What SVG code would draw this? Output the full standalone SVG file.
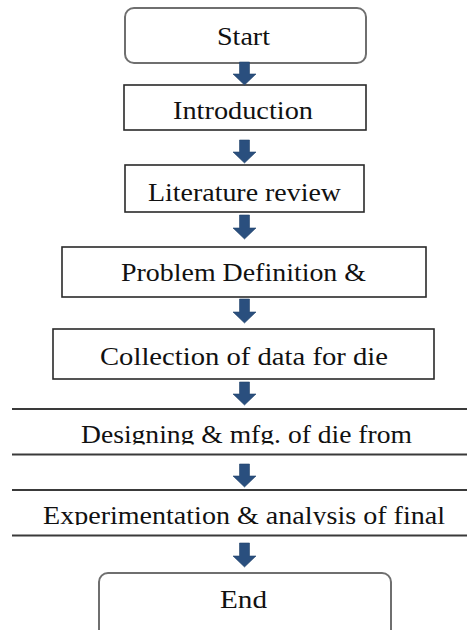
<svg xmlns="http://www.w3.org/2000/svg" width="467" height="630" viewBox="0 0 467 630">
<style>
.term{fill:#fff;stroke:#6f6f6f;stroke-width:2}
.box{fill:#fff;stroke:#2a2a2a;stroke-width:1.6}
.rule{stroke:#3a3a3a;stroke-width:2}
.lbl{font-family:"Liberation Serif","Times New Roman",serif;font-size:25px;fill:#111;text-anchor:middle}
.arr{fill:#2a4f7e;stroke:#24446c;stroke-width:0.6}
</style>
<defs>
<clipPath id="c6"><rect x="0" y="405" width="467" height="39.5"/></clipPath>
<clipPath id="c7"><rect x="0" y="486" width="467" height="39"/></clipPath>
</defs>
<rect width="467" height="630" fill="#fff"/>
<g id="n1"><rect class="term" x="125" y="8" width="241" height="55" rx="9"/><text class="lbl" x="243.5" y="45" textLength="53" lengthAdjust="spacingAndGlyphs">Start</text></g>
<g id="n2"><rect class="box" x="124" y="85" width="242" height="45"/><text class="lbl" x="243" y="119" textLength="140" lengthAdjust="spacingAndGlyphs">Introduction</text></g>
<g id="n3"><rect class="box" x="125" y="165" width="239" height="47"/><text class="lbl" x="244.5" y="200.5" textLength="193" lengthAdjust="spacingAndGlyphs">Literature review</text></g>
<g id="n4"><rect class="box" x="62" y="247" width="364" height="50"/><text class="lbl" x="243.5" y="281" textLength="245" lengthAdjust="spacingAndGlyphs">Problem Definition &amp;</text></g>
<g id="n5"><rect class="box" x="53" y="329" width="381" height="50"/><text class="lbl" x="244" y="365" textLength="288" lengthAdjust="spacingAndGlyphs">Collection of data for die</text></g>
<g id="n6"><line class="rule" x1="12" y1="409" x2="467" y2="409"/><line class="rule" x1="12" y1="454.5" x2="467" y2="454.5"/><text class="lbl" clip-path="url(#c6)" x="246.5" y="443" textLength="331" lengthAdjust="spacingAndGlyphs">Designing &amp; mfg. of die from</text></g>
<g id="n7"><line class="rule" x1="12" y1="490" x2="467" y2="490"/><line class="rule" x1="12" y1="535.5" x2="467" y2="535.5"/><text class="lbl" clip-path="url(#c7)" x="244" y="523.5" textLength="402" lengthAdjust="spacingAndGlyphs">Experimentation &amp; analysis of final</text></g>
<g id="n8"><rect class="term" x="99" y="573" width="292" height="75" rx="9"/><text class="lbl" x="243.5" y="608" textLength="47" lengthAdjust="spacingAndGlyphs">End</text></g>
<g id="connectors">
<path class="arr" d="M239.5,62 h10 v12 h6.5 l-11.5,11 l-11.5,-11 h6.5 z"/>
<path class="arr" d="M239.5,140 h10 v12 h6.5 l-11.5,11 l-11.5,-11 h6.5 z"/>
<path class="arr" d="M239.5,215 h10 v13 h6.5 l-11.5,11 l-11.5,-11 h6.5 z"/>
<path class="arr" d="M239.5,299 h10 v13 h6.5 l-11.5,11 l-11.5,-11 h6.5 z"/>
<path class="arr" d="M239.5,382 h10 v12 h6.5 l-11.5,11 l-11.5,-11 h6.5 z"/>
<path class="arr" d="M239.5,464 h10 v12 h6.5 l-11.5,11 l-11.5,-11 h6.5 z"/>
<path class="arr" d="M239.5,543 h10 v13 h6.5 l-11.5,11 l-11.5,-11 h6.5 z"/>
</g>
</svg>
